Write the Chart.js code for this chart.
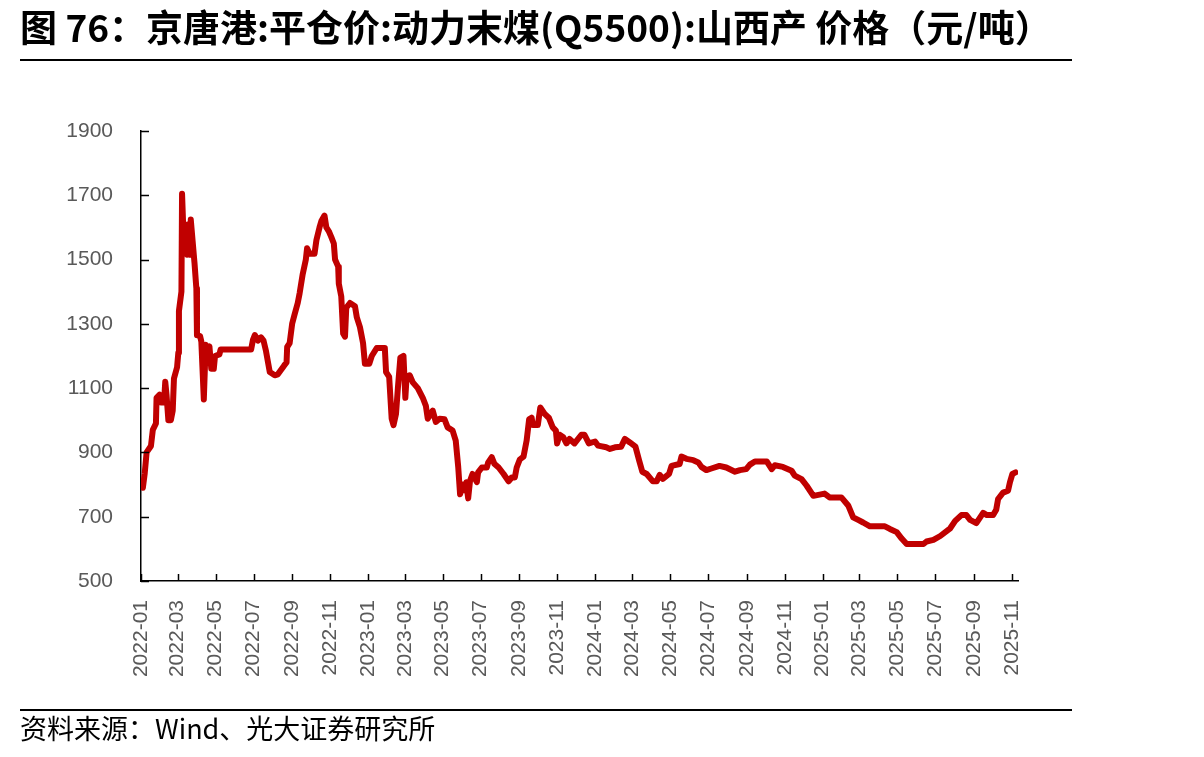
<!DOCTYPE html>
<html>
<head>
<meta charset="utf-8">
<script src="https://cdn.jsdelivr.net/npm/chart.js@4.4.0/dist/chart.umd.min.js"></script>
<style>
    html, body { margin: 0; padding: 0; background: #fff; }
    #wrap { position: relative; width: 1204px; height: 757px; overflow: hidden; }
    #chart { position: absolute; left: 0; top: 0; }
    .title {
        position: absolute; left: 20px; top: 4px;
        font-family: "Noto Sans CJK SC", sans-serif; font-weight: bold;
        font-size: 37px; line-height: 44px; color: #000; white-space: nowrap;
    }
    .rule { position: absolute; left: 20px; width: 1052px; height: 2px; background: #000; }
    .source {
        position: absolute; left: 20px; top: 711px;
        font-family: "Noto Sans CJK SC", sans-serif;
        font-size: 27px; line-height: 34px; color: #000; white-space: nowrap;
    }
</style>
</head>
<body>
<div id="wrap">
    <canvas id="chart" width="1204" height="757"></canvas>
    <div class="title">图 76：京唐港:平仓价:动力末煤(Q5500):山西产 价格（元/吨）</div>
    <div class="rule" style="top:59px"></div>
    <div class="rule" style="top:709px"></div>
    <div class="source">资料来源：Wind、光大证券研究所</div>
</div>
<script>
// 京唐港 平仓价 动力末煤 Q5500 山西产, 元/吨
const dates = [
    '2022-01-04', '2022-01-07', '2022-01-10', '2022-01-17', '2022-01-20', '2022-01-25', '2022-01-26', '2022-01-31',
    '2022-02-02', '2022-02-07', '2022-02-09', '2022-02-11', '2022-02-14', '2022-02-18', '2022-02-21', '2022-02-23',
    '2022-02-28', '2022-03-02', '2022-03-03', '2022-03-07', '2022-03-08', '2022-03-11', '2022-03-16', '2022-03-18',
    '2022-03-21', '2022-03-22', '2022-03-28', '2022-03-31', '2022-04-01', '2022-04-06', '2022-04-08', '2022-04-12',
    '2022-04-15', '2022-04-19', '2022-04-21', '2022-04-24', '2022-04-28', '2022-04-30', '2022-05-07', '2022-05-09',
    '2022-06-27', '2022-06-30', '2022-07-03', '2022-07-08', '2022-07-13', '2022-07-17', '2022-07-21', '2022-07-27',
    '2022-08-04', '2022-08-09', '2022-08-19', '2022-08-23', '2022-08-24', '2022-08-28', '2022-09-01', '2022-09-05',
    '2022-09-10', '2022-09-13', '2022-09-18', '2022-09-23', '2022-09-25', '2022-09-29', '2022-10-07', '2022-10-10',
    '2022-10-15', '2022-10-18', '2022-10-23', '2022-10-26', '2022-10-30', '2022-11-03', '2022-11-07', '2022-11-09',
    '2022-11-14', '2022-11-15', '2022-11-19', '2022-11-22', '2022-11-25', '2022-11-27', '2022-12-03', '2022-12-11',
    '2022-12-14', '2022-12-19', '2022-12-24', '2022-12-27',
    '2023-01-03', '2023-01-07', '2023-01-15', '2023-01-28', '2023-01-30', '2023-02-04', '2023-02-08', '2023-02-11',
    '2023-02-15', '2023-02-18', '2023-02-22', '2023-02-27', '2023-03-02', '2023-03-04', '2023-03-09', '2023-03-14',
    '2023-03-22', '2023-03-30', '2023-04-04', '2023-04-07', '2023-04-15', '2023-04-20', '2023-04-26', '2023-05-04',
    '2023-05-09', '2023-05-17', '2023-05-22', '2023-05-26', '2023-05-29', '2023-06-02', '2023-06-06', '2023-06-08',
    '2023-06-11', '2023-06-14', '2023-06-18', '2023-06-25', '2023-06-27', '2023-07-03', '2023-07-11', '2023-07-13',
    '2023-07-19', '2023-07-23', '2023-07-30', '2023-08-07', '2023-08-15', '2023-08-20', '2023-08-25', '2023-08-28',
    '2023-09-02', '2023-09-08', '2023-09-13', '2023-09-17', '2023-09-21', '2023-09-23', '2023-10-01', '2023-10-05',
    '2023-10-12', '2023-10-19', '2023-10-25', '2023-10-30', '2023-11-01', '2023-11-05', '2023-11-11', '2023-11-16',
    '2023-11-21', '2023-11-29', '2023-12-10', '2023-12-15', '2023-12-22',
    '2024-01-01', '2024-01-06', '2024-01-19', '2024-01-25', '2024-02-02', '2024-02-12', '2024-02-18', '2024-02-26',
    '2024-03-06', '2024-03-12', '2024-03-17', '2024-03-24', '2024-04-03', '2024-04-09', '2024-04-14', '2024-04-19',
    '2024-04-29', '2024-05-03', '2024-05-16', '2024-05-19', '2024-05-27', '2024-06-07', '2024-06-15', '2024-06-20',
    '2024-06-28', '2024-07-06', '2024-07-19', '2024-07-30', '2024-08-13', '2024-08-21', '2024-08-31', '2024-09-06',
    '2024-09-14', '2024-10-03', '2024-10-11', '2024-10-16', '2024-10-29', '2024-11-12', '2024-11-17', '2024-11-28',
    '2024-12-06', '2024-12-17', '2024-12-25',
    '2025-01-04', '2025-01-12', '2025-01-31', '2025-02-11', '2025-02-19', '2025-02-27', '2025-03-07', '2025-03-18',
    '2025-04-11', '2025-04-19', '2025-04-30', '2025-05-08', '2025-05-16', '2025-06-12', '2025-06-17', '2025-06-28',
    '2025-07-09', '2025-07-25', '2025-08-02', '2025-08-12', '2025-08-20', '2025-08-26', '2025-09-05', '2025-09-16',
    '2025-09-22', '2025-10-02', '2025-10-07', '2025-10-10', '2025-10-18', '2025-10-26', '2025-10-29', '2025-11-02',
    '2025-11-07'
];

const prices = [
    790, 835, 900, 920, 970, 990, 1070, 1080,
    1055, 1055, 1120, 1080, 1000, 1000, 1030, 1130,
    1165, 1210, 1340, 1400, 1705, 1540, 1515, 1610,
    1515, 1625, 1490, 1410, 1265, 1262, 1245, 1065,
    1235, 1215, 1230, 1160, 1160, 1200, 1205, 1220,
    1220, 1250, 1265, 1248, 1258, 1248, 1215, 1150,
    1140, 1143, 1170, 1180, 1228, 1240, 1300, 1330,
    1365, 1395, 1455, 1500, 1535, 1518, 1518, 1560,
    1600, 1620, 1637, 1600, 1588, 1570, 1550, 1500,
    1478, 1425, 1385, 1270, 1260, 1350, 1365, 1355,
    1320, 1290, 1240, 1176,
    1176, 1200, 1225, 1225, 1150, 1135, 1005, 985,
    1020, 1100, 1195, 1200, 1070, 1135, 1140, 1118,
    1100, 1070, 1045, 1005, 1030, 995, 1005, 1003,
    978, 968, 937, 855, 770, 800, 782, 807,
    757, 812, 833, 808, 838, 853, 853, 868,
    885, 865, 853, 833, 810, 822, 822, 853,
    878, 887, 937, 1003, 1008, 985, 985, 1040,
    1020, 1007, 978, 968, 928, 955, 947, 928,
    942, 928, 955, 955, 928,
    934, 921, 916, 911, 916, 918, 942, 931,
    918, 874, 840, 833, 810, 810, 830, 818,
    833, 858, 864, 887, 880, 876, 869, 855,
    845, 850, 858, 853, 840, 845, 848, 862,
    872, 872, 848, 860, 855, 843, 828, 817,
    797, 765, 768,
    772, 760, 760, 735, 698, 690, 682, 670,
    670, 662, 652, 632, 615, 615, 623, 628,
    640, 664, 687, 705, 705, 690, 680, 712,
    705, 705, 722, 755, 775, 781, 807, 833,
    838
];

const tickLabels = [
    '2022-01', '2022-03', '2022-05', '2022-07', '2022-09', '2022-11',
    '2023-01', '2023-03', '2023-05', '2023-07', '2023-09', '2023-11',
    '2024-01', '2024-03', '2024-05', '2024-07', '2024-09', '2024-11',
    '2025-01', '2025-03', '2025-05', '2025-07', '2025-09', '2025-11'
];

const yTicks = [500, 700, 900, 1100, 1300, 1500, 1700, 1900];

// days since 2022-01-01
const origin = Date.UTC(2022, 0, 1);
function dayOf(s) {
    const p = s.split('-').map(Number);
    return (Date.UTC(p[0], p[1] - 1, p[2] || 1) - origin) / 86400000;
}

const points = dates.map((d, i) => ({ x: dayOf(d), y: prices[i] }));

const labelFont = { family: '"Liberation Sans", Arial, sans-serif', size: 21 };

// inward tick marks, like the original
const innerTicks = {
    id: 'innerTicks',
    afterDraw(chart) {
        const { ctx, chartArea, scales } = chart;
        ctx.save();
        ctx.strokeStyle = '#000';
        ctx.lineWidth = 1.5;
        ctx.beginPath();
        scales.x.ticks.forEach(t => {
            const px = Math.round(scales.x.getPixelForValue(t.value)) + 0.5;
            ctx.moveTo(px, chartArea.bottom);
            ctx.lineTo(px, chartArea.bottom - 7);
        });
        scales.y.ticks.forEach(t => {
            const py = Math.round(scales.y.getPixelForValue(t.value)) + 0.5;
            ctx.moveTo(chartArea.left, py);
            ctx.lineTo(chartArea.left + 8, py);
        });
        ctx.stroke();
        ctx.restore();
    }
};

new Chart(document.getElementById('chart'), {
    type: 'line',
    data: {
        datasets: [{
            data: points,
            borderColor: '#C00000',
            borderWidth: 6,
            borderJoinStyle: 'round',
            borderCapStyle: 'round',
            pointRadius: 0,
            tension: 0
        }]
    },
    options: {
        responsive: false,
        animation: false,
        layout: { padding: { left: 0, top: 131, right: 186, bottom: 0 } },
        plugins: {
            legend: { display: false },
            tooltip: { enabled: false }
        },
        scales: {
            x: {
                type: 'linear',
                min: 0,
                max: dayOf('2025-11-11'),
                afterBuildTicks(scale) {
                    scale.ticks = tickLabels.map(l => ({ value: dayOf(l + '-01') }));
                },
                afterFit(scale) { scale.height = 757 - 581; },
                grid: { display: false, drawTicks: false },
                border: { display: true, color: '#000', width: 1.5 },
                ticks: {
                    autoSkip: false,
                    minRotation: 90,
                    maxRotation: 90,
                    padding: 19,
                    color: '#595959',
                    font: labelFont,
                    callback: (v, i) => tickLabels[i]
                }
            },
            y: {
                min: 500,
                max: 1900,
                afterBuildTicks(scale) {
                    scale.ticks = yTicks.map(v => ({ value: v }));
                },
                afterFit(scale) { scale.width = 141; },
                grid: { display: false, drawTicks: false },
                border: { display: true, color: '#000', width: 1.5 },
                ticks: {
                    padding: 28,
                    color: '#595959',
                    font: labelFont,
                    callback: v => String(v)
                }
            }
        }
    },
    plugins: [innerTicks]
});
</script>
</body>
</html>
